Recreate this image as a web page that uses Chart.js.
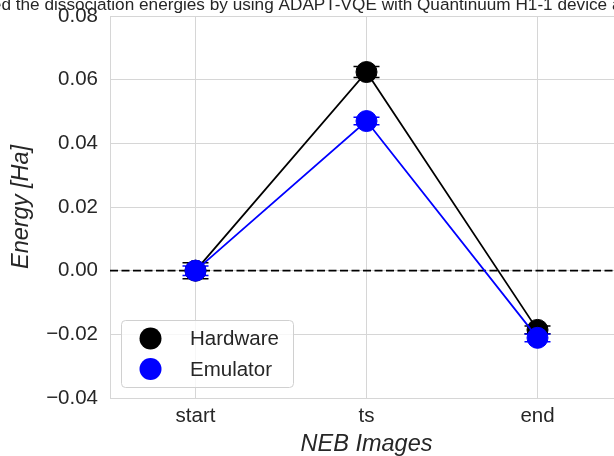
<!DOCTYPE html>
<html>
<head>
<meta charset="utf-8">
<script src="https://cdn.jsdelivr.net/npm/chart.js@4"></script>
<style>
  html, body { margin: 0; padding: 0; background: #fff; overflow: hidden; }
  #wrap { position: absolute; left: 0; top: 0; width: 640px; height: 456px; }
</style>
</head>
<body>
<div id="wrap"><canvas id="chart"></canvas></div>
<script>
// data
const categories = ["start", "ts", "end"];
const seriesNames = ["Hardware", "Emulator"];
const seriesColors = ["#000000", "#0000ff"];
const hardwareEnergy = [0.0, 0.0624, -0.0186];
const hardwareError = [0.0025, 0.0017, 0.0012];
const emulatorEnergy = [0.0, 0.0470, -0.0211];
const emulatorError = [0.0015, 0.0012, 0.0012];
const yMin = -0.04, yMax = 0.08, yStep = 0.02;
const referenceEnergy = 0.0;
const titleText = "Calculated the dissociation energies by using ADAPT-VQE with Quantinuum H1-1 device and emulator";

const textColor = "#262626";
const gridColor = "#d6d6d6";
const fontFamily = "'Liberation Sans', Arial, sans-serif";

// dashed zero line
const refLine = {
    id: "refLine",
    beforeDatasetsDraw(chart) {
        const { ctx, chartArea } = chart;
        const y = chart.scales.y.getPixelForValue(referenceEnergy);
        ctx.save();
        ctx.strokeStyle = "#000";
        ctx.lineWidth = 1.6;
        ctx.setLineDash([8, 3.5]);
        ctx.beginPath();
        ctx.moveTo(chartArea.left, y);
        ctx.lineTo(chartArea.right, y);
        ctx.stroke();
        ctx.restore();
    }
};

// error bars with caps, under the markers
const errorBars = {
    id: "errorBars",
    beforeDatasetsDraw(chart) {
        const { ctx } = chart;
        const yScale = chart.scales.y;
        chart.data.datasets.forEach((ds, i) => {
            const meta = chart.getDatasetMeta(i);
            ctx.save();
            ctx.strokeStyle = ds.borderColor;
            ctx.lineWidth = 1.5;
            meta.data.forEach((pt, j) => {
                const v = ds.data[j], e = ds.errors[j];
                const top = yScale.getPixelForValue(v + e);
                const bot = yScale.getPixelForValue(v - e);
                ctx.beginPath();
                ctx.moveTo(pt.x, top); ctx.lineTo(pt.x, bot);
                ctx.moveTo(pt.x - 13, top); ctx.lineTo(pt.x + 13, top);
                ctx.moveTo(pt.x - 13, bot); ctx.lineTo(pt.x + 13, bot);
                ctx.stroke();
            });
            ctx.restore();
        });
    }
};

// legend box in the lower left of the axes
const legendBox = {
    id: "legendBox",
    afterDatasetsDraw(chart) {
        const { ctx } = chart;
        const x = 121, y = 320, w = 172, h = 67;
        ctx.save();
        ctx.fillStyle = "rgba(255,255,255,0.8)";
        ctx.strokeStyle = "#d0d0d0";
        ctx.lineWidth = 1;
        ctx.beginPath();
        ctx.roundRect(x + 0.5, y + 0.5, w, h, 4);
        ctx.fill();
        ctx.stroke();
        ctx.font = "20.5px " + fontFamily;
        ctx.textBaseline = "middle";
        chart.data.datasets.forEach((ds, i) => {
            const cy = 338.5 + i * 30.5;
            ctx.fillStyle = ds.backgroundColor;
            ctx.beginPath();
            ctx.arc(150.5, cy, 11, 0, Math.PI * 2);
            ctx.fill();
            ctx.fillStyle = textColor;
            ctx.fillText(ds.label, 190, cy + 1);
        });
        ctx.restore();
    }
};

// figure title, centred on the whole canvas and clipped at the top like the reference
const topTitle = {
    id: "topTitle",
    afterDraw(chart) {
        const { ctx } = chart;
        ctx.save();
        ctx.font = "17.2px " + fontFamily;
        ctx.fillStyle = textColor;
        ctx.textAlign = "center";
        ctx.textBaseline = "alphabetic";
        ctx.fillText(titleText, chart.width / 2 + 1, 9.5);
        ctx.restore();
    }
};

const ctx = document.getElementById("chart").getContext("2d");
new Chart(ctx, {
    type: "line",
    data: {
        labels: categories,
        datasets: [
            {
                label: seriesNames[0],
                data: hardwareEnergy,
                errors: hardwareError,
                borderColor: seriesColors[0],
                backgroundColor: seriesColors[0],
                borderWidth: 1.8,
                pointRadius: 10.5,
                pointBorderWidth: 1,
                pointHoverRadius: 10.5,
                tension: 0,
                clip: false,
                order: 1
            },
            {
                label: seriesNames[1],
                data: emulatorEnergy,
                errors: emulatorError,
                borderColor: seriesColors[1],
                backgroundColor: seriesColors[1],
                borderWidth: 1.8,
                pointRadius: 10.5,
                pointBorderWidth: 1,
                pointHoverRadius: 10.5,
                tension: 0,
                clip: false,
                order: 0
            }
        ]
    },
    options: {
        responsive: true,
        maintainAspectRatio: false,
        animation: false,
        events: [],
        layout: { padding: { left: 0, right: 17, top: 16, bottom: 0 } },
        plugins: {
            legend: { display: false },
            tooltip: { enabled: false }
        },
        scales: {
            x: {
                offset: true,
                grid: { color: gridColor, drawTicks: false, offset: false },
                border: { color: gridColor },
                ticks: { color: textColor, font: { family: fontFamily, size: 20.5 }, padding: 6 },
                title: {
                    display: true,
                    text: "NEB Images",
                    color: textColor,
                    font: { family: fontFamily, size: 23.5, style: "italic" },
                    padding: { top: 0, bottom: -3 }
                },
                afterFit(scale) { scale.height = 58; }
            },
            y: {
                min: yMin,
                max: yMax,
                grid: { color: gridColor, drawTicks: false },
                border: { color: gridColor },
                ticks: {
                    stepSize: yStep,
                    color: textColor,
                    font: { family: fontFamily, size: 20.5 },
                    padding: 12,
                    callback: v => (Math.abs(v) < 1e-9 ? 0 : v).toFixed(2).replace("-", "\u2212")
                },
                title: {
                    display: true,
                    text: "Energy [Ha]",
                    color: textColor,
                    font: { family: fontFamily, size: 23.5, style: "italic" },
                    padding: { top: 7, bottom: 0 }
                },
                afterFit(scale) {
                    scale.width = 110;
                    scale.paddingTop = 0;
                    scale.paddingBottom = 0;
                }
            }
        }
    },
    plugins: [refLine, errorBars, legendBox, topTitle]
});
</script>
</body>
</html>
